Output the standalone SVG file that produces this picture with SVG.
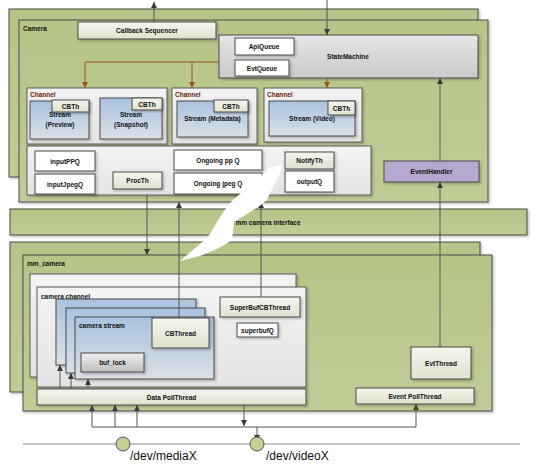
<svg xmlns="http://www.w3.org/2000/svg" width="534" height="465" viewBox="0 0 534 465">
<defs>
<linearGradient id="gGreen" x1="0" y1="0" x2="0" y2="1"><stop offset="0" stop-color="#b5c487"/><stop offset="1" stop-color="#bfcc97"/></linearGradient>
<linearGradient id="gBeige" x1="0" y1="0" x2="0" y2="1"><stop offset="0" stop-color="#f5f6ee"/><stop offset="1" stop-color="#dfe2cf"/></linearGradient>
<linearGradient id="gLight" x1="0" y1="0" x2="0" y2="1"><stop offset="0" stop-color="#f3f3f3"/><stop offset="1" stop-color="#e4e4e4"/></linearGradient>
<linearGradient id="gGray" x1="0" y1="0" x2="0" y2="1"><stop offset="0" stop-color="#e6e6e6"/><stop offset="1" stop-color="#c9c9c9"/></linearGradient>
<linearGradient id="gBuf" x1="0" y1="0" x2="0" y2="1"><stop offset="0" stop-color="#f0f0f0"/><stop offset="1" stop-color="#bdbdbd"/></linearGradient>
<linearGradient id="gBlue" x1="0" y1="0" x2="0" y2="1"><stop offset="0" stop-color="#a9c3df"/><stop offset="1" stop-color="#dbe0e6"/></linearGradient>
<filter id="sh" x="-5%" y="-5%" width="115%" height="130%"><feDropShadow dx="1.5" dy="1.5" stdDeviation="0.8" flood-color="#000" flood-opacity="0.25"/></filter>
<marker id="ah" viewBox="0 0 10 10" refX="10" refY="5" markerWidth="7" markerHeight="6" markerUnits="userSpaceOnUse" orient="auto"><path d="M0,0 L10,5 L0,10 z" fill="#3a3a3a"/></marker>
<marker id="ahb" viewBox="0 0 10 10" refX="10" refY="5" markerWidth="7" markerHeight="6" markerUnits="userSpaceOnUse" orient="auto"><path d="M0,0 L10,5 L0,10 z" fill="#a0521f"/></marker>
<style>
.g{fill:url(#gGreen);stroke:#4a4a4a;stroke-width:1;filter:url(#sh)}
.b{fill:url(#gBeige);stroke:#4a4a4a;stroke-width:1;filter:url(#sh)}
.l{fill:url(#gLight);stroke:#5a5a5a;stroke-width:1;filter:url(#sh)}
.w{fill:#ffffff;stroke:#4a4a4a;stroke-width:1;filter:url(#sh)}
.s{fill:url(#gGray);stroke:#4a4a4a;stroke-width:1;filter:url(#sh)}
.u{fill:url(#gBlue);stroke:#4a4a4a;stroke-width:1;filter:url(#sh)}
.p{fill:#b6a8cf;stroke:#4a4a4a;stroke-width:1;filter:url(#sh)}
text{font-family:"Liberation Sans",Arial,sans-serif;font-size:6.5px;font-weight:bold;fill:#111}
.c{text-anchor:middle}
.ch{fill:#6e1c0c}
.dev{font-size:12px;font-weight:normal;fill:#111}
.k{fill:none;stroke:#555;stroke-width:1}
.br{fill:none;stroke:#a0521f;stroke-width:1}
</style>
</defs>

<g id="camera">
<rect class="g" x="9" y="9" width="469" height="168"/>
<rect class="g" x="19" y="20" width="469" height="182"/>
<text x="23" y="31">Camera</text>
</g>
<g id="callback-sequencer"><rect class="b" x="78" y="22" width="138" height="17"/><text class="c" x="147" y="33">Callback Sequencer</text></g>
<g id="statemachine"><rect class="s" x="219" y="35" width="259" height="43"/><text class="c" x="348" y="58.5">StateMachine</text></g>
<g id="apiqueue"><rect class="w" x="235" y="38" width="59" height="17"/><text class="c" x="264" y="49">ApiQueue</text></g>
<g id="evtqueue"><rect class="w" x="235" y="60" width="54" height="16"/><text class="c" x="262" y="70.5">EvtQueue</text></g>

<g id="channel-1">
<rect class="l" x="27" y="88" width="140" height="56"/>
<text class="ch" x="30" y="97">Channel</text>
<rect class="u" x="30" y="101" width="59" height="38"/>
<text class="c" x="60" y="117">Stream</text><text class="c" x="60" y="127">(Preview)</text>
<rect class="b" x="52" y="100" width="37" height="12"/><text class="c" x="70.5" y="108.5">CBTh</text>
<rect class="u" x="100" y="98" width="62" height="41"/>
<text class="c" x="131" y="117">Stream</text><text class="c" x="131" y="127">(Snapshot)</text>
<rect class="b" x="132" y="98" width="30" height="12"/><text class="c" x="147" y="106.5">CBTh</text>
</g>
<g id="channel-2">
<rect class="l" x="172" y="88" width="85" height="56"/>
<text class="ch" x="175" y="97">Channel</text>
<rect class="u" x="177" y="101" width="71" height="36"/>
<text class="c" x="212.5" y="120.5">Stream (Metadata)</text>
<rect class="b" x="214" y="100" width="34" height="12"/><text class="c" x="231" y="108.5">CBTh</text>
</g>
<g id="channel-3">
<rect class="l" x="264" y="88" width="98" height="54"/>
<text class="ch" x="267" y="97">Channel</text>
<rect class="u" x="269" y="101" width="86" height="35"/>
<text class="c" x="312" y="120.5">Stream (Video)</text>
<rect class="b" x="328" y="101" width="27" height="14"/><text class="c" x="341.5" y="110.5">CBTh</text>
</g>

<g id="processing">
<rect class="l" x="27" y="146" width="344" height="49"/>
</g>
<g id="inputppq"><rect class="w" x="35" y="151" width="60" height="20"/><text class="c" x="65" y="163.5">inputPPQ</text></g>
<g id="inputjpegq"><rect class="w" x="35" y="174" width="60" height="20"/><text class="c" x="65" y="186.5">inputJpegQ</text></g>
<g id="procth"><rect class="b" x="113" y="172" width="49" height="17"/><text class="c" x="137.5" y="183">ProcTh</text></g>
<g id="ongoing-pp-q"><rect class="w" x="174" y="150" width="88" height="20"/><text class="c" x="218" y="162.5">Ongoing pp Q</text></g>
<g id="ongoing-jpeg-q"><rect class="w" x="174" y="173" width="88" height="21"/><text class="c" x="218" y="186">Ongoing jpeg Q</text></g>
<g id="notifyth"><rect class="b" x="285" y="152" width="49" height="17"/><text class="c" x="309.5" y="163">NotifyTh</text></g>
<g id="outputq"><rect class="w" x="285" y="171" width="49" height="21"/><text class="c" x="309.5" y="184">outputQ</text></g>
<g id="eventhandler"><rect class="p" x="384" y="161" width="95" height="21"/><text class="c" x="431.5" y="174">EventHandler</text></g>

<g id="mm-camera-interface"><rect class="g" x="10" y="209" width="517" height="26"/><text class="c" x="268" y="224.5">mm camera interface</text></g>

<g id="mm-camera">
<rect class="g" x="10" y="242" width="470" height="150"/>
<rect class="g" x="23" y="255" width="469" height="156"/>
<text x="27" y="265.5">mm_camera</text>
</g>
<g id="camera-channel">
<rect class="l" x="30" y="274" width="266" height="103"/>
<rect class="l" x="37" y="287" width="269" height="100"/>
<text x="41" y="298.5">camera channel</text>
</g>
<g id="camera-stream">
<rect class="u" x="56" y="299" width="140" height="66"/>
<rect class="u" x="66" y="308" width="139" height="65"/>
<rect class="u" x="75" y="317" width="139" height="62"/>
<text x="79" y="328">camera stream</text>
</g>
<g id="cbthread"><rect class="b" x="152" y="318" width="57" height="30"/><text class="c" x="180.5" y="335.5">CBThread</text></g>
<g id="buf-lock"><rect class="s" x="81" y="353" width="63" height="19" style="fill:url(#gBuf)"/><text class="c" x="112.5" y="365">buf_lock</text></g>
<g id="superbufcbthread"><rect class="b" x="220" y="297" width="80" height="20"/><text class="c" x="260" y="309.5">SuperBufCBThread</text></g>
<g id="superbufq"><rect class="w" x="237" y="323" width="41" height="14"/><text class="c" x="257.5" y="332.5">superbufQ</text></g>
<g id="evtthread"><rect class="b" x="411" y="347" width="60" height="32"/><text class="c" x="441" y="365.5">EvtThread</text></g>
<g id="data-pollthread"><rect class="b" x="37" y="389" width="269" height="16"/><text class="c" x="171.5" y="399.5">Data PollThread</text></g>
<g id="event-pollthread"><rect class="b" x="356" y="388" width="118" height="16"/><text class="c" x="415" y="398.5">Event PollThread</text></g>

<g id="connectors">
<line class="k" x1="154" y1="22" x2="154" y2="2" marker-end="url(#ah)"/>
<line class="k" x1="327" y1="0" x2="327" y2="35" marker-end="url(#ah)"/>
<polyline class="br" points="219,62 85,62 85,88" marker-end="url(#ahb)"/>
<line class="br" x1="192" y1="62" x2="192" y2="88" marker-end="url(#ahb)"/>
<line class="br" x1="327" y1="78" x2="327" y2="88" marker-end="url(#ahb)"/>
<line class="k" x1="440" y1="161" x2="440" y2="78" marker-end="url(#ah)"/>
<line class="k" x1="440" y1="347" x2="440" y2="182" marker-end="url(#ah)"/>
<line class="k" x1="147" y1="195" x2="147" y2="255" marker-end="url(#ah)"/>
<line class="k" x1="179" y1="318" x2="179" y2="202" marker-end="url(#ah)"/>
<line class="k" x1="261" y1="297" x2="261" y2="202" marker-end="url(#ah)"/>
<line class="k" x1="60" y1="389" x2="60" y2="365" marker-end="url(#ah)"/>
<line class="k" x1="71" y1="389" x2="71" y2="373" marker-end="url(#ah)"/>
<line class="k" x1="88" y1="389" x2="88" y2="379" marker-end="url(#ah)"/>
<polyline class="k" points="92,427 416,427"/>
<line class="k" x1="92" y1="427" x2="92" y2="405" marker-end="url(#ah)"/>
<line class="k" x1="115" y1="427" x2="115" y2="405" marker-end="url(#ah)"/>
<line class="k" x1="137" y1="427" x2="137" y2="405" marker-end="url(#ah)"/>
<line class="k" x1="244" y1="405" x2="244" y2="426" marker-end="url(#ah)"/>
<line class="k" x1="416" y1="427" x2="416" y2="404" marker-end="url(#ah)"/>
<line class="k" x1="257" y1="427" x2="257" y2="441" marker-end="url(#ah)"/>
</g>

<g id="timeline">
<line x1="23" y1="444" x2="520" y2="444" stroke="#8a8a8a" stroke-width="1"/>
<circle cx="123" cy="444" r="7" fill="#c3cf95" stroke="#555" stroke-width="1"/>
<circle cx="257" cy="444" r="7" fill="#c3cf95" stroke="#555" stroke-width="1"/>
<text class="dev" x="130" y="460">/dev/mediaX</text>
<text class="dev" x="266" y="460">/dev/videoX</text>
</g>

<path d="M180,261 L194,249 C200,244 205,240 210,234 L217,222 C222,214 227,206 233,200 C242,192 252,184 260,177 L270,167 L282,165 C281,170 280,174 278,177 C274,185 270,193 267,200 C258,208 245,215 234,222 L232,240 C222,247 210,252 200,256 Z" fill="#ffffff"/>
</svg>
